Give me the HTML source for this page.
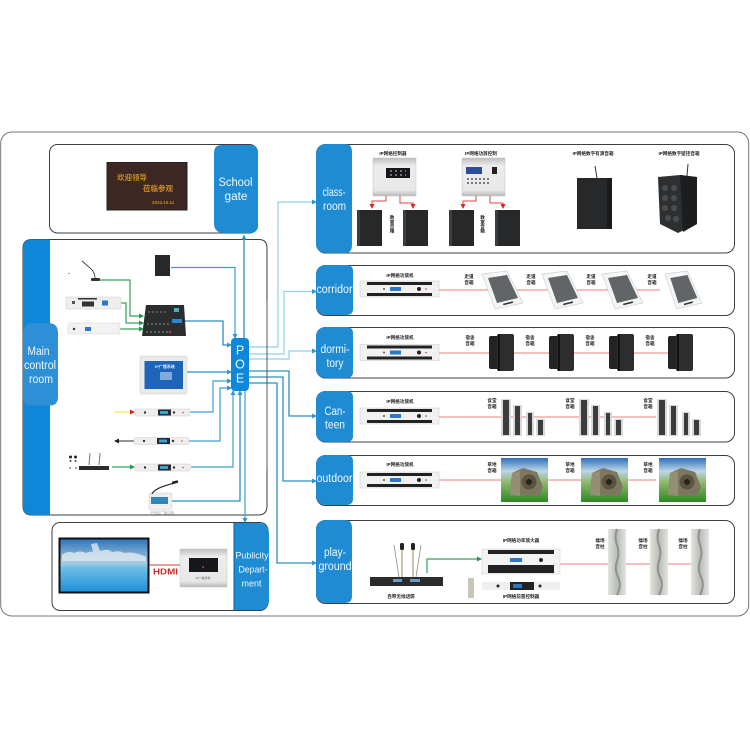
<!DOCTYPE html>
<html><head><meta charset="utf-8"><style>
html,body{margin:0;padding:0;background:#fff;width:750px;height:750px;overflow:hidden}
svg{display:block;filter:blur(.35px)}
text{font-family:"Liberation Sans","Noto Sans CJK SC",sans-serif}
.w{fill:#eef7ff;font-size:11.5px;text-anchor:middle}
.t{fill:#222;font-size:4.6px;font-weight:bold;text-anchor:middle}
.c{fill:none;stroke:#3d9fd1;stroke-width:1.2}
.l{fill:none;stroke:#8fd0ea;stroke-width:1.2}
.d{fill:none;stroke:#2b8fc4;stroke-width:1.3}
.g{fill:none;stroke:#2fa35a;stroke-width:1.2}
.r{fill:none;stroke:#e98078;stroke-width:1}
.a{fill:#2f97cd}
.p{fill:#fff;stroke:#3a3f44;stroke-width:1}
.b{fill:#1f8bd3}
</style></head><body>
<svg width="750" height="750" viewBox="0 0 750 750" xmlns="http://www.w3.org/2000/svg">
<defs>
<g id="amp"><rect x="0" y="0" width="79" height="16" fill="#f1f1f1" stroke="#c8c8c8" stroke-width=".5"/><rect x="7" y="1" width="65" height="3" fill="#222"/><rect x="7" y="12" width="65" height="3" fill="#222"/><rect x="30" y="6" width="11" height="4" fill="#2c77c6"/><circle cx="59" cy="8" r="2" fill="#222"/><circle cx="24" cy="8" r="1" fill="#555"/><circle cx="66" cy="8" r=".8" fill="#c33"/></g>
<g id="spk"><rect width="25" height="36" fill="#26282a"/><rect x="0" width="3" height="36" fill="#3b3d3f"/></g>
<g id="wall"><rect x="0" y="2" width="25" height="33" rx="2" fill="#222426"/><rect x="8" y="0" width="17" height="37" rx="2" fill="#2b2d2f"/><rect x="9" y="0" width="2" height="37" fill="#111"/></g>
<g id="panel"><polygon points="1,3 26,0 42,32 14,38" fill="#f3f4f4" stroke="#cfd2d4" stroke-width=".7" stroke-linejoin="round"/><polygon points="7,7 26,4 37,27 16,32" fill="#626567"/><rect x="13" y="2" width="8" height="3" fill="#fff" transform="rotate(-8 17 3)"/><rect x="22" y="31.500" width="10" height="1.600" fill="#333" transform="rotate(-14 27 32)"/></g>
<g id="rack"><rect x="0" y="0" width="55" height="7" rx="1" fill="#eeeeee" stroke="#cfcfcf" stroke-width=".5"/><rect x="23" y="0.5" width="13" height="6" fill="#26282b"/><rect x="25" y="2" width="8" height="3" fill="#39a4d8"/><circle cx="10" cy="3.5" r="1.2" fill="#333"/><circle cx="39" cy="3.5" r="1.2" fill="#333"/><circle cx="48" cy="3.5" r=".8" fill="#c44"/></g>
<g id="cols"><rect x="0" y="0" width="10" height="37" fill="#d8dad9"/><rect x="2" y="1" width="6" height="35" fill="#3a3c3d"/><rect x="12" y="6" width="9" height="31" fill="#d8dad9"/><rect x="14" y="7" width="5" height="29" fill="#3a3c3d"/><rect x="25" y="13" width="8" height="24" fill="#d8dad9"/><rect x="27" y="14" width="4" height="22" fill="#3a3c3d"/><rect x="35" y="20" width="9" height="17" fill="#d8dad9"/><rect x="37" y="21" width="5" height="15" fill="#3a3c3d"/></g>
<linearGradient id="sky" x1="0" y1="0" x2="0" y2="1"><stop offset="0" stop-color="#2f6fb8"/><stop offset=".3" stop-color="#bcd6e8"/><stop offset=".55" stop-color="#8fb86a"/><stop offset="1" stop-color="#2c8a22"/></linearGradient>
<g id="rock"><rect width="47" height="44" fill="url(#sky)"/><path d="M9 37 L11 15 L22 10 L36 14 L42 29 L38 38 Z" fill="#7d7760"/><path d="M9 37 L11 15 L19 13 L19 38Z" fill="#948e75"/><circle cx="28" cy="24" r="7.500" fill="#59533f"/><circle cx="28" cy="24" r="3" fill="#26241c"/></g>
<g id="col"><rect width="18" height="66" fill="url(#grey)"/><path d="M9 0q-3 8 0 16t0 16t1 16t-1 18" fill="none" stroke="#8f918b" stroke-width="2"/></g>
<linearGradient id="grey" x1="0" x2="1"><stop offset="0" stop-color="#e2e4df"/><stop offset=".5" stop-color="#b9bcb6"/><stop offset="1" stop-color="#e2e4df"/></linearGradient>
<linearGradient id="tv" x1="0" y1="0" x2="0" y2="1"><stop offset="0" stop-color="#2a73b8"/><stop offset=".45" stop-color="#a9cbe0"/><stop offset=".55" stop-color="#6cbde6"/><stop offset="1" stop-color="#1c8fd8"/></linearGradient>
<linearGradient id="sil" x1="0" y1="0" x2="0" y2="1"><stop offset="0" stop-color="#bdbdbd"/><stop offset=".2" stop-color="#ececec"/><stop offset=".85" stop-color="#e8e8e8"/><stop offset="1" stop-color="#b8b8b8"/></linearGradient>
<marker id="m" markerWidth="5" markerHeight="5" refX="4" refY="2.5" orient="auto" markerUnits="userSpaceOnUse"><path d="M0 0L5 2.5L0 5Z" fill="#2f97cd"/></marker>
<marker id="mg" markerWidth="5" markerHeight="5" refX="4" refY="2.5" orient="auto" markerUnits="userSpaceOnUse"><path d="M0 0L5 2.5L0 5Z" fill="#1f9a4c"/></marker>
<marker id="mr" markerWidth="5" markerHeight="5" refX="4" refY="2.5" orient="auto" markerUnits="userSpaceOnUse"><path d="M0 0L5 2.5L0 5Z" fill="#d42a22"/></marker>
</defs>

<rect x="0.7" y="132" width="748" height="484" rx="11" fill="#fff" stroke="#777" stroke-width="1"/>

<!-- School gate -->
<rect class="p" x="49.5" y="144.5" width="208" height="88.5" rx="8"/>
<path class="b" d="M222 145H250Q258 145 258 153V225Q258 233 250 233H224Q214 233 214 223V153Q214 145 222 145Z"/>
<text class="w" x="235.500" y="186" textLength="34" lengthAdjust="spacingAndGlyphs">School</text>
<text class="w" x="236" y="200" textLength="23" lengthAdjust="spacingAndGlyphs">gate</text>
<rect x="107" y="162.500" width="80" height="47.500" fill="#3c2722" stroke="#222" stroke-width="1"/>
<text x="117" y="180" font-size="7.500" font-weight="bold" fill="#c98a2b">欢迎领导</text>
<text x="143" y="191" font-size="7.500" font-weight="bold" fill="#c98a2b">莅临参观</text>
<text x="152" y="204" font-size="4.500" font-weight="bold" fill="#c98a2b">2024.10.11</text>

<!-- Main control -->
<path d="M32 239.500H259Q267 239.500 267 248V506Q267 515 258 515H32Q23 515 23 506V248Q23 239.500 32 239.500Z" fill="#fff" stroke="#3a3f44" stroke-width="1"/>
<path d="M32 239.500H50V515H32Q23 515 23 506V248Q23 239.500 32 239.500Z" fill="#0f87d8"/>
<path d="M23 334Q23 323 34 323H48Q58 323 58 333V397Q58 405.500 50 405.500H31Q23 405.500 23 397Z" fill="#2d8fd5"/>
<text class="w" x="38.500" y="355" textLength="22" lengthAdjust="spacingAndGlyphs">Main</text>
<text class="w" x="40" y="369" textLength="32" lengthAdjust="spacingAndGlyphs">control</text>
<text class="w" x="41" y="383" textLength="24" lengthAdjust="spacingAndGlyphs">room</text>

<!-- Publicity -->
<rect class="p" x="52" y="522.500" width="216" height="88" rx="8"/>
<path class="b" d="M234 523H258Q269 523 269 534V600Q269 610 259 610H234Z"/>
<path d="M234 523V610" stroke="#0d5f96" stroke-width="1"/>
<text class="w" x="252" y="558.500" style="font-size:9.500px" textLength="33" lengthAdjust="spacingAndGlyphs">Publicity</text>
<text class="w" x="253" y="572.500" style="font-size:9.500px" textLength="29" lengthAdjust="spacingAndGlyphs">Depart-</text>
<text class="w" x="251.500" y="586.500" style="font-size:9.500px" textLength="20" lengthAdjust="spacingAndGlyphs">ment</text>
<rect x="59.500" y="538.500" width="89" height="54" fill="url(#tv)" stroke="#111" stroke-width="2"/>
<path d="M62 555q6-5 12-2q6-3 12 0q4-2 7-1l-2-8 6-1 3 8q8-3 12 1q8-2 12 1q10-2 22 4v4H62Z" fill="#e6eef2" opacity=".75"/>
<rect x="180" y="549" width="47" height="38" fill="url(#sil)" stroke="#c5c5c5" stroke-width=".5"/>
<rect x="189" y="558" width="29" height="14" fill="#15171a"/>
<circle cx="203" cy="567" r="1" fill="#c33"/>
<text x="203" y="579" font-size="3" text-anchor="middle" fill="#666">IP广播终端</text>
<path d="M149 565H180" stroke="#c9403a" stroke-width="1"/>
<text x="165.500" y="574.500" font-size="8" font-weight="bold" text-anchor="middle" fill="#c5302a" textLength="25" lengthAdjust="spacingAndGlyphs">HDMI</text>

<!-- Right panels -->
<g>
<rect class="p" x="316.500" y="144.500" width="418" height="108.500" rx="9"/>
<rect class="p" x="316.500" y="265.500" width="418" height="50" rx="9"/>
<rect class="p" x="316.500" y="327.500" width="418" height="50.500" rx="9"/>
<rect class="p" x="316.500" y="391.500" width="418" height="50.500" rx="9"/>
<rect class="p" x="316.500" y="455.500" width="418" height="50" rx="9"/>
<rect class="p" x="316.500" y="520.500" width="418" height="83" rx="9"/>
<path class="b" d="M327 144H345Q352 144 352 152V245Q352 253 345 253H327Q316 253 316 243V155Q316 144 327 144Z"/>
<path class="b" d="M327 265H346Q353 265 353 271V309Q353 315 346 315H327Q316 315 316 305V275Q316 265 327 265Z"/>
<path class="b" d="M327 327H346Q353 327 353 333V372Q353 378 346 378H327Q316 378 316 368V337Q316 327 327 327Z"/>
<path class="b" d="M327 391H346Q353 391 353 397V436Q353 442 346 442H327Q316 442 316 432V401Q316 391 327 391Z"/>
<path class="b" d="M327 455H346Q353 455 353 461V499Q353 505 346 505H327Q316 505 316 495V465Q316 455 327 455Z"/>
<path class="b" d="M327 520H345Q352 520 352 528V596Q352 603 345 603H327Q316 603 316 593V530Q316 520 327 520Z"/>
<text class="w" x="334" y="196" textLength="23" lengthAdjust="spacingAndGlyphs">class-</text>
<text class="w" x="334.500" y="210" textLength="23" lengthAdjust="spacingAndGlyphs">room</text>
<text class="w" x="334.500" y="293" textLength="36" lengthAdjust="spacingAndGlyphs">corridor</text>
<text class="w" x="335" y="353" textLength="29" lengthAdjust="spacingAndGlyphs">dormi-</text>
<text class="w" x="335" y="367" textLength="17" lengthAdjust="spacingAndGlyphs">tory</text>
<text class="w" x="335" y="415" textLength="21" lengthAdjust="spacingAndGlyphs">Can-</text>
<text class="w" x="335" y="428.500" textLength="20" lengthAdjust="spacingAndGlyphs">teen</text>
<text class="w" x="334.500" y="482" textLength="36" lengthAdjust="spacingAndGlyphs">outdoor</text>
<text class="w" x="335" y="556" textLength="22" lengthAdjust="spacingAndGlyphs">play-</text>
<text class="w" x="335" y="570" textLength="33" lengthAdjust="spacingAndGlyphs">ground</text>
</g>

<!-- Main room connectors -->
<g>
<path class="c" d="M171 267.500H235V338" marker-end="url(#m)"/>
<path class="d" d="M244 338V235.500" marker-end="url(#m)"/>
<path class="g" d="M100 280H130V316H143" marker-end="url(#mg)"/>
<path class="g" d="M121 303H126V323H143" marker-end="url(#mg)"/>
<path class="g" d="M120 329H143" marker-end="url(#mg)"/>
<path class="d" d="M185 321H223V345H231" marker-end="url(#m)"/>
<path class="d" d="M186 372H231" marker-end="url(#m)"/>
<path d="M114 412H134" stroke="#f1e95a" stroke-width="1.200" marker-end="url(#mr)" fill="none"/>
<path class="c" d="M189 412H213V381H231" marker-end="url(#m)"/>
<path class="c" d="M189 441H220V388H231" marker-end="url(#m)"/>
<path d="M134 441H115" stroke="#555" stroke-width="1.200" fill="none"/>
<path d="M119 438.500L114 441L119 443.500Z" fill="#222"/>
<path class="g" d="M112 467H134" marker-end="url(#mg)"/>
<path class="c" d="M191 467H233V391" marker-end="url(#m)"/>
<path class="d" d="M172 501H240V391" marker-end="url(#m)"/>
<path class="c" d="M245 391V522" marker-end="url(#m)"/>
</g>

<!-- Outgoing -->
<path class="l" d="M249 347H278V202H316" marker-end="url(#m)"/>
<path class="l" d="M249 354H284V291.500H316" marker-end="url(#m)"/>
<path class="l" d="M249 359H289V351H316" marker-end="url(#m)"/>
<path class="d" d="M249 371H289V416H316" marker-end="url(#m)"/>
<path class="d" d="M249 377H283V481H316" marker-end="url(#m)"/>
<path class="d" d="M249 383H277V563H316" marker-end="url(#m)"/>
<path d="M267 300V470" stroke="#555" stroke-width="1"/>

<!-- POE -->
<rect x="231" y="338" width="18" height="53" rx="4" fill="#0f87d8"/>
<text class="w" x="240" y="354.500" style="font-size:12.500px">P</text>
<text class="w" x="240" y="368.500" style="font-size:12.500px">O</text>
<text class="w" x="240" y="382.500" style="font-size:12.500px">E</text>

<!-- Main room devices -->
<circle cx="69" cy="273.500" r=".8" fill="#888"/>
<path d="M82 261L90 268Q95 272 95 278" stroke="#444" stroke-width=".9" fill="none"/>
<rect x="91" y="278" width="9" height="3" rx="1" fill="#333"/>
<rect x="155" y="255" width="15" height="21" fill="#26282a"/>
<rect x="66" y="297" width="55" height="12" rx="1" fill="#eee" stroke="#ccc" stroke-width=".5"/><rect x="82" y="301.500" width="12" height="5" fill="#333"/><rect x="102" y="300.500" width="6" height="5" fill="#2c77c6"/><rect x="78" y="298" width="19" height="1.500" fill="#333"/><rect x="72" y="301" width="3" height="3" fill="#555"/>
<rect x="68" y="323" width="52" height="11" rx="1" fill="#f2f2f2" stroke="#d5d5d5" stroke-width=".5"/><rect x="85" y="327" width="6" height="4" fill="#2c77c6"/><circle cx="74" cy="329" r="1.200" fill="#333"/>
<path d="M146 305H184L186 336H142Z" fill="#2b2d2f"/><rect x="172" y="319" width="10" height="4" fill="#2c88d0"/><rect x="174" y="308" width="5" height="4" fill="#4ab0c0"/><circle cx="170" cy="332" r="1.300" fill="#c33"/><path d="M148 312h20M147 324h22M146 332h22" stroke="#8a8a8a" stroke-width="1" stroke-dasharray="2 2"/>
<rect x="140" y="356" width="47" height="38" rx="1.500" fill="#eaeaea" stroke="#ccc" stroke-width=".5"/><rect x="144.500" y="361" width="38.500" height="28" fill="#1d65b8"/><rect x="160" y="372" width="12" height="8" fill="#aac8ea" opacity=".7"/><text x="165" y="368" font-size="4" font-weight="bold" text-anchor="middle" fill="#dfeaff">IP广播系统</text>
<use href="#rack" transform="translate(135 409)"/>
<use href="#rack" transform="translate(134 437.500)"/>
<use href="#rack" transform="translate(135 464)"/>
<rect x="79" y="466" width="30" height="4" fill="#2a2c2e"/><path d="M89 465L90 453M99 465L100 453" stroke="#777" stroke-width="1"/>
<circle cx="70.500" cy="457" r="1.500" fill="#222"/><circle cx="75.500" cy="457" r="1.500" fill="#222"/><circle cx="70.500" cy="461" r="1" fill="#444"/><circle cx="75.500" cy="461" r="1" fill="#444"/><circle cx="70" cy="468" r=".8" fill="#444"/><circle cx="76" cy="468" r=".8" fill="#444"/>
<rect x="149" y="493" width="23" height="17" rx="1" fill="#eee" stroke="#ccc" stroke-width=".5"/><rect x="151" y="497" width="17" height="7" fill="#2f88b8"/><path d="M152 494Q154 488 175 483" stroke="#333" stroke-width="1.200" fill="none"/><rect x="172" y="481" width="6" height="2.500" fill="#222" transform="rotate(-15 175 482)"/>
<text x="162" y="514" font-size="3.500" text-anchor="middle" fill="#aaa">IP网络广播话筒</text>

<!-- Classroom -->
<text class="t" x="393" y="155">IP网络控制器</text>
<text class="t" x="481" y="155">IP网络功放控制</text>
<text class="t" x="593" y="155">IP网络数字有源音箱</text>
<text class="t" x="679" y="155">IP网络数字壁挂音箱</text>
<rect x="373" y="158" width="43" height="38" fill="url(#sil)" stroke="#c0c0c0" stroke-width=".5"/><rect x="386" y="168" width="24" height="10" fill="#15171a"/><path d="M390 171h16M390 175h16" stroke="#ccc" stroke-width="1" stroke-dasharray="2 3"/>
<rect x="462" y="158" width="43" height="38" fill="url(#sil)" stroke="#c0c0c0" stroke-width=".5"/><rect x="466" y="167" width="16" height="7" fill="#2b4d9c"/><rect x="492" y="167" width="5" height="7" fill="#222"/><path d="M467 179h22M467 183h22" stroke="#555" stroke-width="1.500" stroke-dasharray="2 2"/>
<path d="M386 196V201H372V208" stroke="#d9453d" stroke-width="1" fill="none" marker-end="url(#mr)"/>
<path d="M400 196V203H413V208" stroke="#d9453d" stroke-width="1" fill="none" marker-end="url(#mr)"/>
<path d="M476 196V201H463V208" stroke="#d9453d" stroke-width="1" fill="none" marker-end="url(#mr)"/>
<path d="M490 196V203H503V208" stroke="#d9453d" stroke-width="1" fill="none" marker-end="url(#mr)"/>
<use href="#spk" transform="translate(357 210)"/><use href="#spk" transform="translate(403 210)"/><use href="#spk" transform="translate(449 210)"/><use href="#spk" transform="translate(495 210)"/>
<text class="t" x="392.500" y="224" writing-mode="tb">教室音箱</text>
<text class="t" x="483" y="224" writing-mode="tb">教室音箱</text>
<path d="M597 178L595 166" stroke="#333" stroke-width="1"/>
<rect x="577" y="178" width="35" height="51" fill="#26282a"/><rect x="607" y="178" width="5" height="51" fill="#1a1b1c"/>
<path d="M687 176L688 164" stroke="#333" stroke-width="1"/>
<path d="M658 177L680 175L697 177V224L678 233L660 224Z" fill="#2d2f31"/><path d="M680 175L683 232L697 224V177Z" fill="#1c1d1e"/>
<g fill="#4a4d50"><circle cx="665" cy="188" r="3"/><circle cx="674" cy="188" r="3"/><circle cx="665" cy="198" r="3"/><circle cx="674" cy="198" r="3"/><circle cx="665" cy="208" r="3"/><circle cx="674" cy="208" r="3"/><circle cx="668" cy="218" r="3"/><circle cx="676" cy="219" r="3"/></g>

<!-- Corridor -->
<path class="r" d="M439 290H660"/>
<use href="#amp" transform="translate(360 281)"/><text class="t" x="400" y="277">IP网络功放机</text>
<use href="#panel" transform="translate(481 271)"/><use href="#panel" transform="translate(541 271)"/><use href="#panel" transform="translate(601 271)"/><use href="#panel" transform="translate(664 271) scale(.9 1)"/>
<text class="t" x="469" y="278">走道</text><text class="t" x="469" y="284">音箱</text>
<text class="t" x="531" y="278">走道</text><text class="t" x="531" y="284">音箱</text>
<text class="t" x="591" y="278">走道</text><text class="t" x="591" y="284">音箱</text>
<text class="t" x="652" y="278">走道</text><text class="t" x="652" y="284">音箱</text>

<!-- Dormitory -->
<path class="r" d="M439 353H670"/>
<use href="#amp" transform="translate(360 344.500)"/><text class="t" x="400" y="339">IP网络功放机</text>
<use href="#wall" transform="translate(489 334)"/><use href="#wall" transform="translate(549 334)"/><use href="#wall" transform="translate(609 334)"/><use href="#wall" transform="translate(668 334)"/>
<text class="t" x="470" y="339">宿舍</text><text class="t" x="470" y="345">音箱</text>
<text class="t" x="530" y="339">宿舍</text><text class="t" x="530" y="345">音箱</text>
<text class="t" x="590" y="339">宿舍</text><text class="t" x="590" y="345">音箱</text>
<text class="t" x="650" y="339">宿舍</text><text class="t" x="650" y="345">音箱</text>

<!-- Canteen -->
<path class="r" d="M439 417H656"/>
<use href="#amp" transform="translate(360 408)"/><text class="t" x="400" y="403">IP网络功放机</text>
<use href="#cols" transform="translate(501 399)"/><use href="#cols" transform="translate(579 399)"/><use href="#cols" transform="translate(657 399)"/>
<text class="t" x="492" y="402">食堂</text><text class="t" x="492" y="408">音箱</text>
<text class="t" x="570" y="402">食堂</text><text class="t" x="570" y="408">音箱</text>
<text class="t" x="648" y="402">食堂</text><text class="t" x="648" y="408">音箱</text>

<!-- Outdoor -->
<path class="r" d="M439 480H656"/>
<use href="#amp" transform="translate(360 472)"/><text class="t" x="400" y="466">IP网络功放机</text>
<use href="#rock" transform="translate(501 458)"/><use href="#rock" transform="translate(581 458)"/><use href="#rock" transform="translate(659 458)"/>
<text class="t" x="492" y="466">草地</text><text class="t" x="492" y="472">音箱</text>
<text class="t" x="570" y="466">草地</text><text class="t" x="570" y="472">音箱</text>
<text class="t" x="648" y="466">草地</text><text class="t" x="648" y="472">音箱</text>

<!-- Playground -->
<path class="r" d="M560 564H692"/>
<path d="M427 573V559H481" stroke="#2fa35a" stroke-width="1.200" fill="none" marker-end="url(#mg)"/>
<rect x="370" y="577" width="73" height="9" fill="#2a2c2e"/><rect x="393" y="579" width="9" height="3" fill="#6f9ac4"/><rect x="410" y="579" width="10" height="3" fill="#6f9ac4"/>
<path d="M394 545L399 577M421 545L416 577" stroke="#888" stroke-width=".8"/>
<rect x="400" y="543" width="4" height="7" rx="1.500" fill="#222"/><rect x="411" y="543" width="4" height="7" rx="1.500" fill="#222"/>
<rect x="401" y="550" width="2" height="27" fill="#c9c3a8"/><rect x="412" y="550" width="2" height="27" fill="#c9c3a8"/>
<rect x="482" y="549" width="78" height="25" fill="#f3f3f3" stroke="#ccc" stroke-width=".5"/><rect x="488" y="550" width="66" height="4" fill="#222"/><rect x="488" y="565" width="66" height="8" fill="#222"/><rect x="510" y="558" width="12" height="4" fill="#2c77c6"/><circle cx="541" cy="560" r="2" fill="#222"/>
<rect x="482" y="582" width="78" height="8" fill="#efefef"/><rect x="510" y="582" width="24" height="8" fill="#222"/><rect x="513" y="584" width="9" height="4" fill="#2c77c6"/><circle cx="498" cy="586" r="1.500" fill="#222"/><circle cx="540" cy="586" r="1.500" fill="#222"/>
<rect x="468" y="578" width="6" height="20" rx="1" fill="#c9c7b4"/>
<text class="t" x="521" y="542">IP网络功率放大器</text>
<text class="t" x="521" y="598">IP网络前置控制器</text>
<text class="t" x="401" y="598">自带无线话筒</text>
<use href="#col" transform="translate(608 529)"/><use href="#col" transform="translate(650 529)"/><use href="#col" transform="translate(691 529)"/>
<text class="t" x="600" y="542">操场</text><text class="t" x="600" y="548">音柱</text>
<text class="t" x="643" y="542">操场</text><text class="t" x="643" y="548">音柱</text>
<text class="t" x="683" y="542">操场</text><text class="t" x="683" y="548">音柱</text>
</svg>
</body></html>
